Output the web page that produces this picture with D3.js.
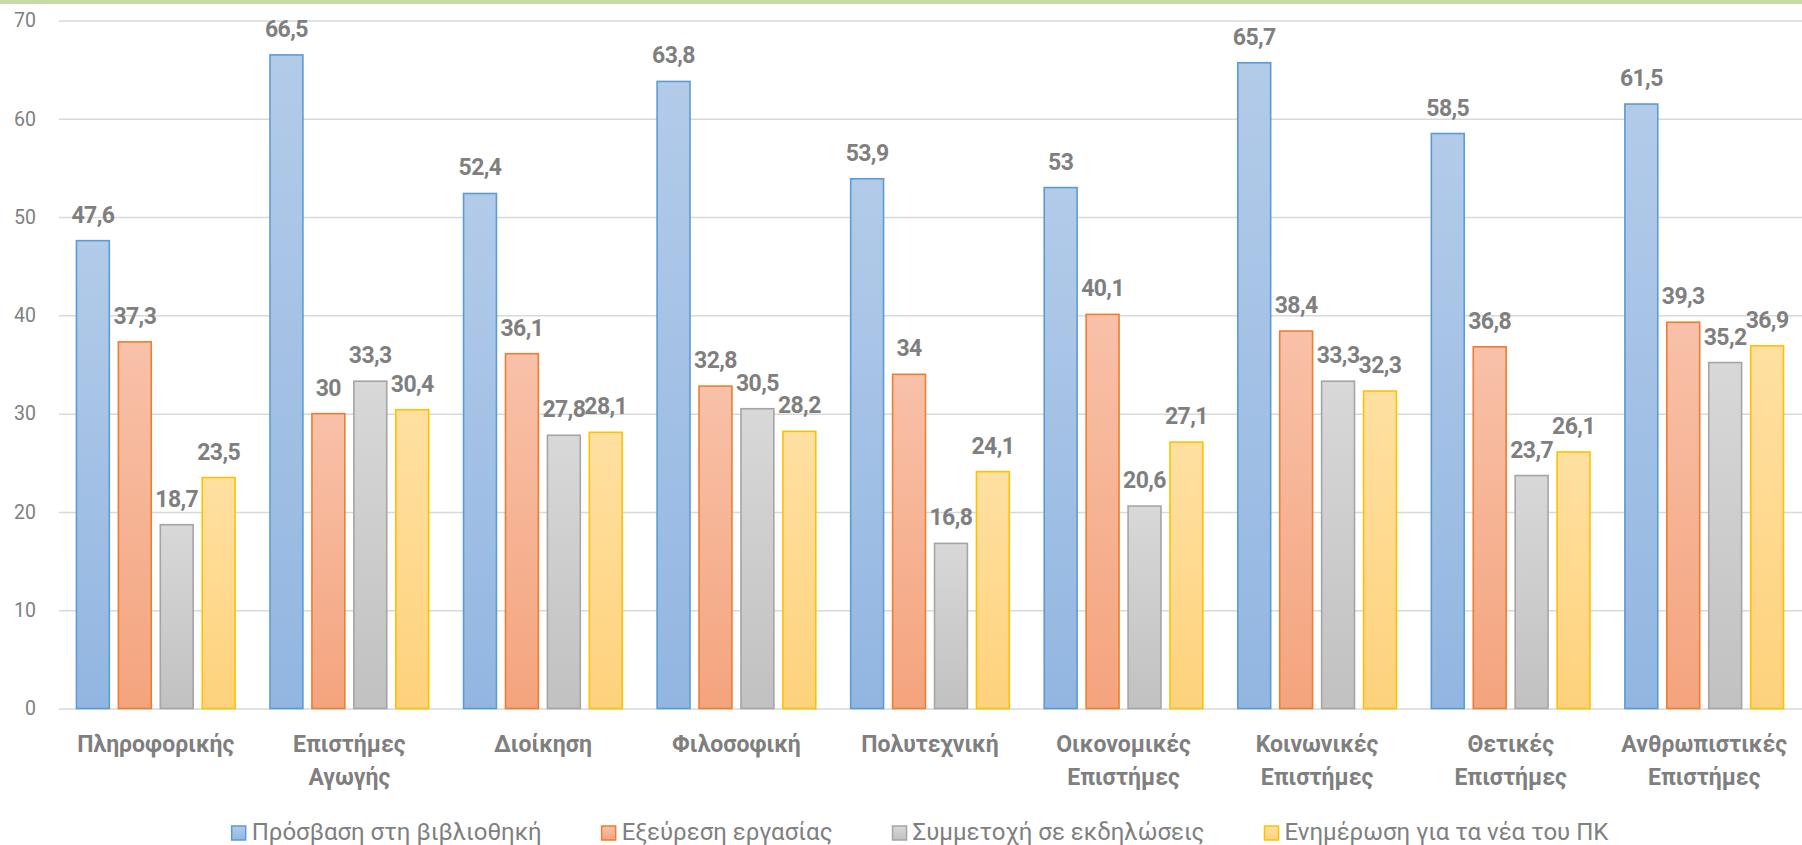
<!DOCTYPE html>
<html>
<head>
<meta charset="utf-8">
<script src="https://cdn.jsdelivr.net/npm/d3@7"></script>
<style>
  html, body { margin: 0; padding: 0; background: #ffffff; }
  svg { display: block; }
  text { font-family: Roboto, "Open Sans", "Noto Sans", sans-serif; }
</style>
</head>
<body>
<svg id="chart" width="1802" height="845"></svg>
<script>
// ---- data ----
const categories = [
  "Πληροφορικής",
  "Επιστήμες Αγωγής",
  "Διοίκηση",
  "Φιλοσοφική",
  "Πολυτεχνική",
  "Οικονομικές Επιστήμες",
  "Κοινωνικές Επιστήμες",
  "Θετικές Επιστήμες",
  "Ανθρωπιστικές Επιστήμες"
];
const seriesNames = [
  "Πρόσβαση στη βιβλιοθηκή",
  "Εξεύρεση εργασίας",
  "Συμμετοχή σε εκδηλώσεις",
  "Ενημέρωση για τα νέα του ΠΚ"
];
const libraryAccess = [47.6, 66.5, 52.4, 63.8, 53.9, 53, 65.7, 58.5, 61.5];
const jobSearch     = [37.3, 30, 36.1, 32.8, 34, 40.1, 38.4, 36.8, 39.3];
const events        = [18.7, 33.3, 27.8, 30.5, 16.8, 20.6, 33.3, 23.7, 35.2];
const news          = [23.5, 30.4, 28.1, 28.2, 24.1, 27.1, 32.3, 26.1, 36.9];
const yTicks = [0, 10, 20, 30, 40, 50, 60, 70];

const seriesValues = [libraryAccess, jobSearch, events, news];

// ---- styles ----
const strokes = ["#5b9bd5", "#ed7d31", "#a5a5a5", "#ffc000"];
const gradTop = ["#b3cbe9", "#f8c1a9", "#d8d8d8", "#ffe0a1"];
const gradBot = ["#92b6e1", "#f4a47d", "#c1c1c1", "#fed27c"];
const textGray = "#7f7f7f";

const W = 1802, H = 845;
const plot = { left: 59, right: 1801, top: 20.5, bottom: 708.5 };

const svg = d3.select("#chart");

// top green band
svg.append("rect").attr("x", 0).attr("y", 0).attr("width", W).attr("height", 4)
  .attr("fill", "#c6dca6");

const defs = svg.append("defs");
seriesNames.forEach((s, i) => {
  const g = defs.append("linearGradient").attr("id", "grad" + i)
    .attr("x1", 0).attr("y1", 0).attr("x2", 0).attr("y2", 1);
  g.append("stop").attr("offset", "0%").attr("stop-color", gradTop[i]);
  g.append("stop").attr("offset", "100%").attr("stop-color", gradBot[i]);
});

const y = d3.scaleLinear().domain([0, 70]).range([plot.bottom, plot.top]);
const x0 = d3.scaleBand().domain(categories).range([plot.left, plot.right]).padding(0);
const groupPad = 16.7;
const x1 = d3.scaleBand().domain(d3.range(seriesNames.length))
  .range([groupPad, x0.bandwidth() - groupPad]).paddingInner(0.18).paddingOuter(0);

// gridlines
const yAxis = d3.axisLeft(y).tickValues(yTicks).tickSize(-(W - plot.left)).tickPadding(0);
const gAxis = svg.append("g").attr("transform", `translate(${plot.left},0)`).call(yAxis);
gAxis.select(".domain").remove();
gAxis.selectAll(".tick line").attr("stroke", "#d9d9d9").attr("stroke-width", 1.5);
gAxis.selectAll(".tick text")
  .attr("x", 36 - plot.left)
  .attr("text-anchor", "end")
  .attr("fill", textGray)
  .style("font-size", "19.5px");

// bars
const groups = svg.append("g").selectAll("g")
  .data(categories).join("g")
  .attr("transform", d => `translate(${x0(d)},0)`);

groups.each(function(cat, ci) {
  const g = d3.select(this);
  seriesValues.forEach((vals, si) => {
    const v = vals[ci];
    g.append("rect")
      .attr("x", x1(si) + 0.75)
      .attr("width", x1.bandwidth() - 1.5)
      .attr("y", y(v))
      .attr("height", y(0) - y(v))
      .attr("fill", `url(#grad${si})`)
      .attr("stroke", strokes[si])
      .attr("stroke-width", 1.6);
  });
});
groups.each(function(cat, ci) {
  const g = d3.select(this);
  seriesValues.forEach((vals, si) => {
    const v = vals[ci];
    g.append("text")
      .attr("x", x1(si) + x1.bandwidth() / 2)
      .attr("y", y(v) - 18)
      .attr("text-anchor", "middle")
      .attr("fill", textGray)
      .style("font-size", "23px")
      .style("letter-spacing", "-0.6px")
      .style("font-weight", "bold")
      .text(String(v).replace(".", ","));
  });
});

// category labels
const catG = svg.append("g");
categories.forEach(cat => {
  const words = cat.split(" ");
  const t = catG.append("text")
    .attr("x", x0(cat) + x0.bandwidth() / 2)
    .attr("y", 752)
    .attr("text-anchor", "middle")
    .attr("fill", textGray)
    .style("font-size", "23px")
    .style("font-weight", "bold");
  words.forEach((w, i) => {
    t.append("tspan")
      .attr("x", x0(cat) + x0.bandwidth() / 2)
      .attr("dy", i === 0 ? 0 : 32.5)
      .text(w);
  });
});

// legend
const legend = svg.append("g");
const items = seriesNames.map((name, i) => {
  const g = legend.append("g");
  g.append("rect").attr("x", 0).attr("y", -14).attr("width", 14).attr("height", 14)
    .attr("fill", `url(#grad${i})`).attr("stroke", strokes[i]).attr("stroke-width", 1.5);
  const t = g.append("text").attr("x", 20).attr("y", 0)
    .attr("fill", textGray).style("font-size", "24px").text(name);
  return { g, w: 20 + t.node().getComputedTextLength() };
});
const gap = 60;
const total = d3.sum(items, d => d.w) + gap * (items.length - 1);
let lx = 920 - total / 2;
items.forEach(it => {
  it.g.attr("transform", `translate(${lx},840)`);
  lx += it.w + gap;
});
</script>
</body>
</html>
